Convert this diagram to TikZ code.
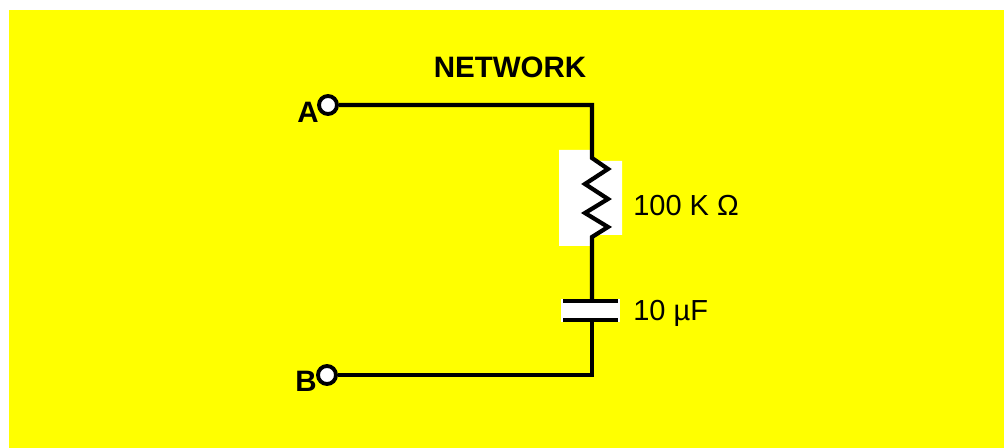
\documentclass[tikz,border=0pt]{standalone}
\usepackage{fontspec}
\setmainfont{Liberation Sans}
\definecolor{bgyellow}{RGB}{255,255,0}
\tikzset{
  wire/.style={line width=2.4pt, line join=miter},
  term/.style={circle, draw, fill=white, line width=2.2pt, minimum size=0.36cm, inner sep=0pt},
  boldlbl/.style={font=\fontsize{16.8}{19}\selectfont\bfseries, inner sep=0pt, anchor=base},
  vallbl/.style={font=\fontsize{16.5}{19}\selectfont, inner sep=0pt, anchor=base west},
  plate/.style={line width=2.8pt}
}
\begin{document}
\begin{tikzpicture}[x=0.02cm,y=-0.02cm]
\useasboundingbox (0,0) rectangle (1004,448);
\fill[bgyellow] (9,10) rectangle (1004,448);
% white backgrounds
\fill[white] (559,150) -- (592,150) -- (592,161) -- (622,161) -- (622,235) -- (592,235) -- (592,246) -- (559,246) -- cycle;
\fill[white] (561,299) rectangle (620,322);
% labels
\node[boldlbl] (net) at (510,78) {NETWORK};
\node[boldlbl] (la) at (308,123) {A};
\node[boldlbl] (lb) at (306,392) {B};
\node[vallbl] (lr) at (633,216) {100 K Ω};
\node[vallbl] (lc) at (633,321) {10 µF};
% coordinates
\coordinate (tr) at (592,105);
\coordinate (rtop) at (592,158);
\coordinate (rbot) at (592,237);
\coordinate (ctop) at (592,301);
\coordinate (cbot) at (592,320);
\coordinate (br) at (592,375);
% terminals
\node[term] (A) at (328,105) {};
\node[term] (B) at (327,375) {};
% wires
\draw[wire] (A.east) -- (tr) -- (rtop)
  -- (608,169) -- (585,184) -- (608,199) -- (585,213) -- (608,227) -- (rbot) -- (ctop);
\draw[wire] (cbot) -- (br) -- (B.east);
% capacitor plates
\draw[plate] (563,301) -- (618,301);
\draw[plate] (563,320) -- (618,320);
\end{tikzpicture}
\end{document}
